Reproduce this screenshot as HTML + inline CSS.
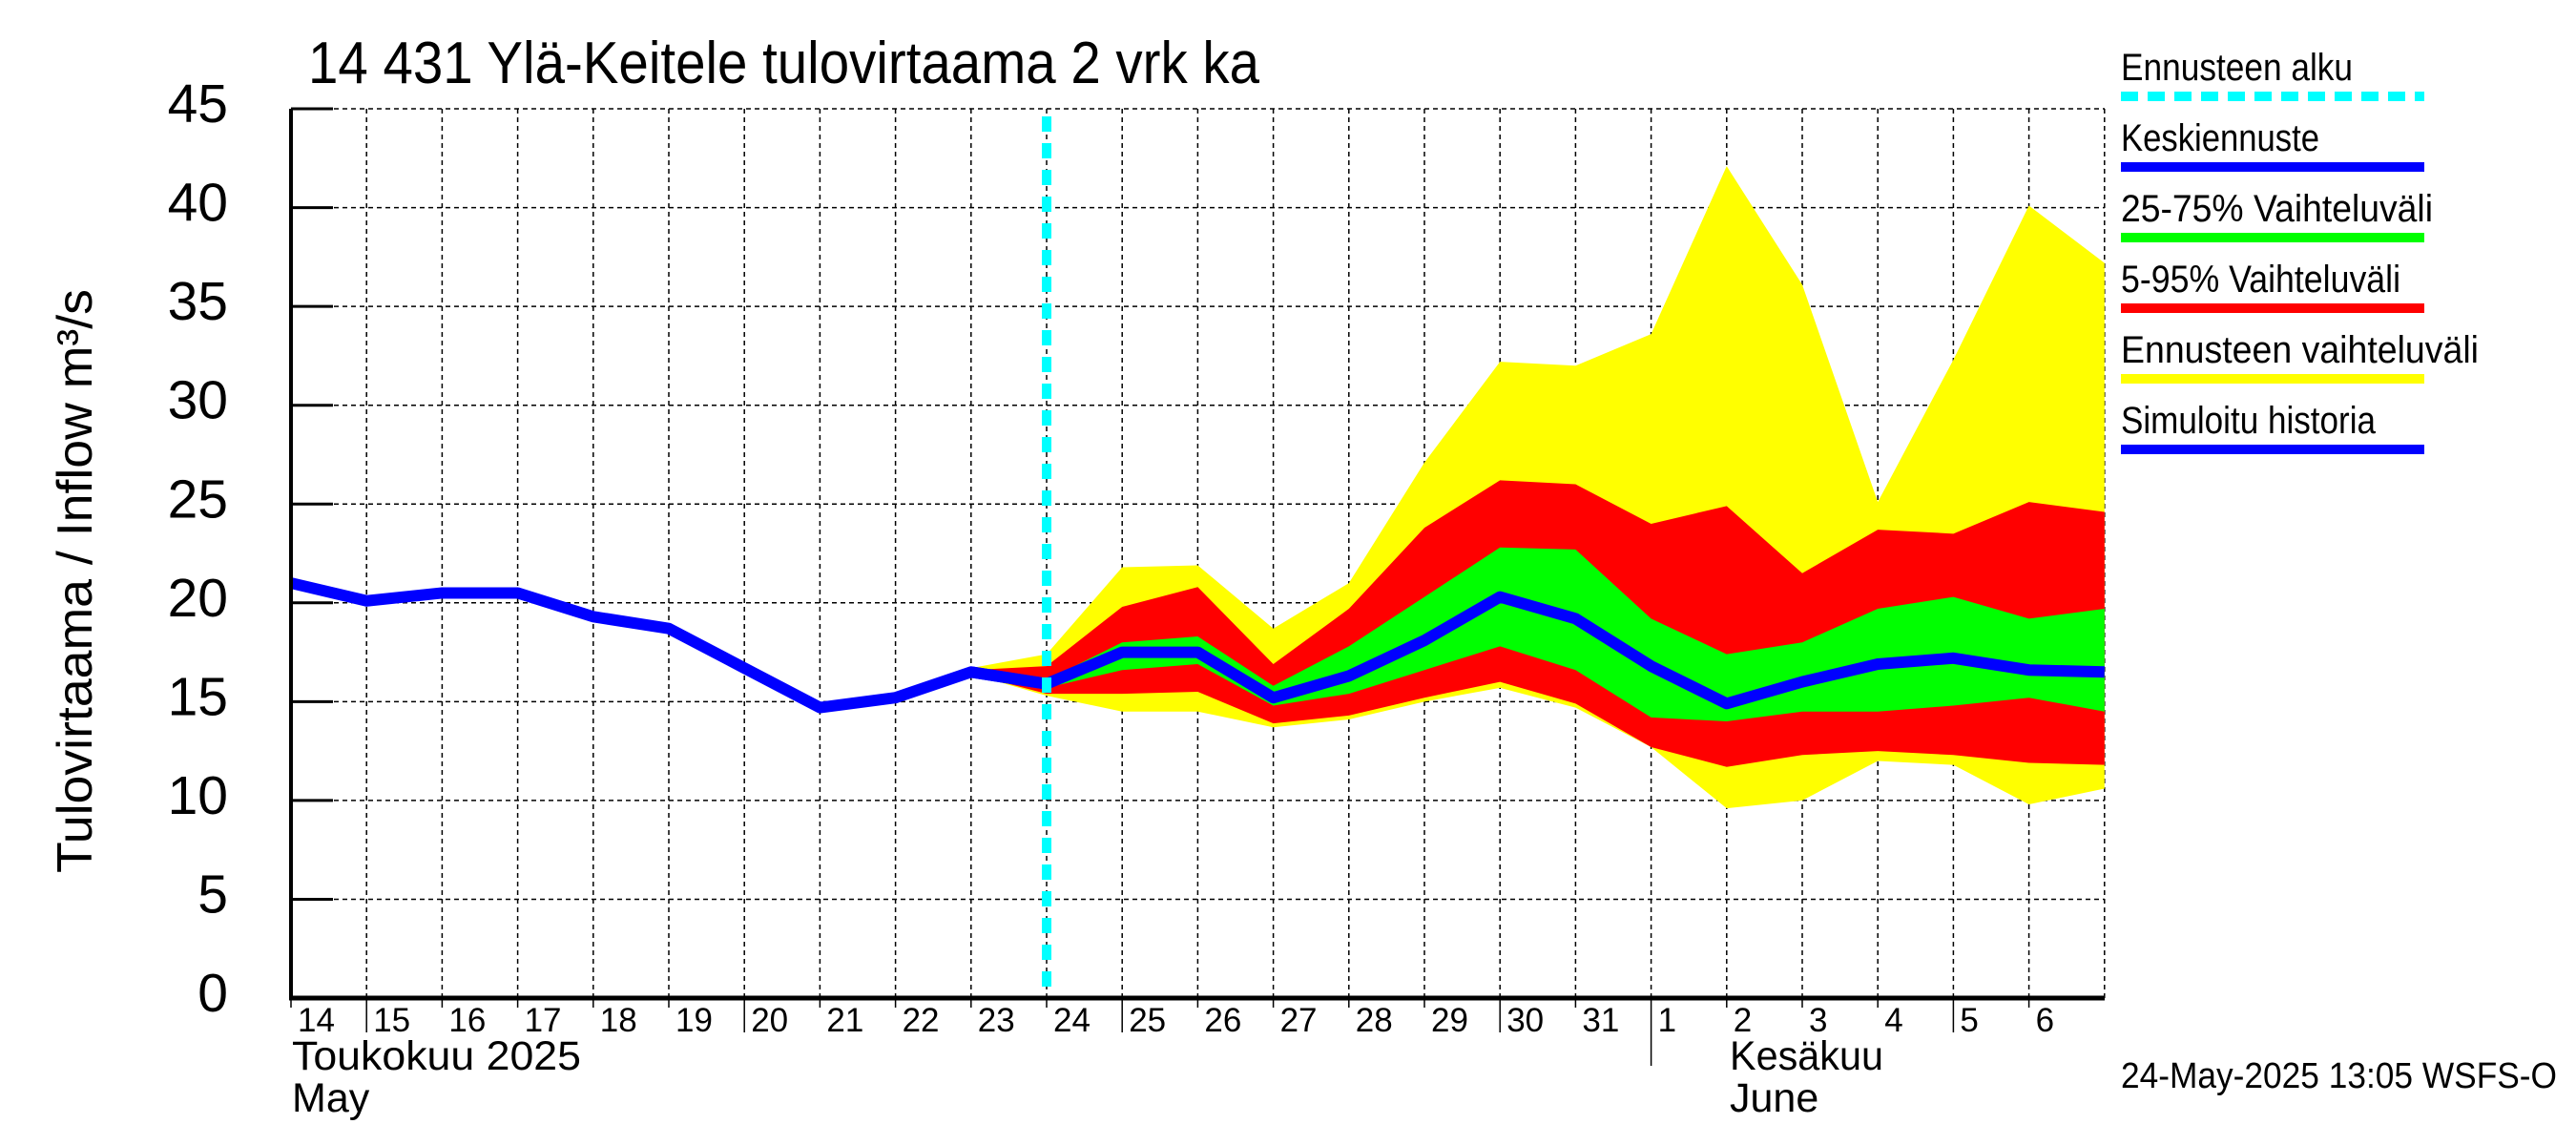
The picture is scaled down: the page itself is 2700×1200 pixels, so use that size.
<!DOCTYPE html>
<html><head><meta charset="utf-8"><style>
body{margin:0;background:#fff}
svg{display:block;font-family:"Liberation Sans",sans-serif}
</style></head><body>
<svg id="c" width="2700" height="1200" viewBox="0 0 2700 1200">
<rect width="2700" height="1200" fill="#fff"/>
<text x="323" y="87" font-size="62" textLength="997" lengthAdjust="spacingAndGlyphs">14 431 Ylä-Keitele tulovirtaama 2 vrk ka</text>
<text transform="translate(96,609) rotate(-90)" text-anchor="middle" font-size="52" textLength="612" lengthAdjust="spacingAndGlyphs">Tulovirtaama / Inflow    m³/s</text>
<g id="grid"></g><g id="bands"></g><g id="lines"></g><g id="axes"></g><g id="legend"></g>
<text x="306" y="1121" font-size="43" textLength="303" lengthAdjust="spacingAndGlyphs">Toukokuu  2025</text>
<text x="306" y="1165" font-size="43">May</text>
<text x="1813" y="1121" font-size="43" textLength="161" lengthAdjust="spacingAndGlyphs">Kesäkuu</text>
<text x="1813" y="1165" font-size="43">June</text>
<text x="2223" y="1140" font-size="38" textLength="457" lengthAdjust="spacingAndGlyphs">24-May-2025 13:05 WSFS-O</text>
</svg>
<script>
const dayLabels=["14","15","16","17","18","19","20","21","22","23","24","25","26","27","28","29","30","31","1","2","3","4","5","6"];
const yTicks=[0,5,10,15,20,25,30,35,40,45];
const history=[21.0,20.1,20.5,20.5,19.3,18.7,16.7,14.7,15.2,16.5,15.9];
// forecast from day index 9 (May 23) to 24 (Jun 7)
const median=[16.5,15.9,17.5,17.5,15.2,16.3,18.1,20.3,19.2,16.8,14.9,16.0,16.9,17.2,16.6,16.5];
const yelTop=[16.7,17.4,21.8,21.9,18.7,21.0,27.1,32.2,32.0,33.6,42.1,36.1,25.1,32.3,40.1,37.2];
const redTop=[16.6,16.8,19.8,20.8,16.9,19.7,23.8,26.2,26.0,24.0,24.9,21.5,23.7,23.5,25.1,24.6];
const grnTop=[16.5,16.1,18.0,18.3,15.8,17.8,20.3,22.8,22.7,19.2,17.4,18.0,19.7,20.3,19.2,19.7];
const grnBot=[16.5,15.7,16.6,16.9,14.8,15.4,16.6,17.8,16.6,14.2,14.0,14.5,14.5,14.8,15.2,14.5];
const redBot=[16.4,15.4,15.4,15.5,13.9,14.3,15.2,16.0,14.9,12.7,11.7,12.3,12.5,12.3,11.9,11.8];
const yelBot=[16.4,15.3,14.5,14.5,13.7,14.1,15.0,15.7,14.7,12.7,9.6,10.0,12.0,11.8,9.8,10.6];
const fcStart=9, forecastDay=10;
const X0=305,DX=79.2,Y0=1046,PU=20.71,XR=2206,YT=114;
const x=i=>X0+i*DX, y=v=>Y0-v*PU;
const NS="http://www.w3.org/2000/svg";
function mk(t,a,p){const e=document.createElementNS(NS,t);for(const k in a)e.setAttribute(k,a[k]);p.appendChild(e);return e;}
const G=document.getElementById('grid'),B=document.getElementById('bands'),L=document.getElementById('lines'),A=document.getElementById('axes'),LG=document.getElementById('legend');
yTicks.forEach(v=>{
 if(v>0){const g=mk('line',{x1:X0,x2:XR,y1:y(v),y2:y(v),stroke:'#000','stroke-width':1.5,'stroke-dasharray':'5,4'},G);
 }
 const t=mk('line',{x1:X0,x2:X0+44,y1:y(v),y2:y(v),stroke:'#000','stroke-width':3},A);
 
 const l=mk('text',{x:239,y:y(v)+14,'font-size':57,'text-anchor':'end'},A);l.textContent=v;
 
});
for(let i=1;i<=24;i++){
 const g=mk('line',{x1:x(i),x2:x(i),y1:YT,y2:Y0,stroke:'#000','stroke-width':1.5,'stroke-dasharray':'5,4'},G);
 
}
dayLabels.forEach((d,i)=>{
 const n=parseInt(d);
 const len=(i==18)?71:(n%5==0?36:10);
 const t=mk('line',{x1:x(i),x2:x(i),y1:Y0,y2:Y0+len,stroke:'#000','stroke-width':1.5},A);
 
 const l=mk('text',{x:x(i)+7,y:1081,'font-size':35},A);l.textContent=d;
 
});
function band(top,bot,col,name){
 let pts=top.map((v,k)=>x(fcStart+k)+','+y(v));
 pts=pts.concat(bot.map((v,k)=>x(fcStart+k)+','+y(v)).reverse());
 const p=mk('polygon',{points:pts.join(' '),fill:col},B);
 
}
band(yelTop,yelBot,'#ffff00','ensemble-range-band');
band(redTop,redBot,'#ff0000','band-5-95');
band(grnTop,grnBot,'#00ff00','band-25-75');
const h=mk('polyline',{points:history.map((v,i)=>x(i)+','+y(v)).join(' '),fill:'none',stroke:'#0000ff','stroke-width':12,'stroke-linejoin':'round'},L);

const m=mk('polyline',{points:median.map((v,k)=>x(fcStart+k)+','+y(v)).join(' '),fill:'none',stroke:'#0000ff','stroke-width':12,'stroke-linejoin':'round'},L);

const c=mk('line',{x1:x(forecastDay),x2:x(forecastDay),y1:YT+8,y2:Y0,stroke:'#00ffff','stroke-width':10,'stroke-dasharray':'16,12'},L);

const ax1=mk('line',{x1:X0,x2:X0,y1:YT,y2:Y0+2,stroke:'#000','stroke-width':4},A);

const ax2=mk('line',{x1:X0-2,x2:XR,y1:Y0,y2:Y0,stroke:'#000','stroke-width':5},A);

const leg=[["Ennusteen alku","#00ffff",243,true],["Keskiennuste","#0000ff",208],["25-75% Vaihteluväli","#00ff00",327],["5-95% Vaihteluväli","#ff0000",293],["Ennusteen vaihteluväli","#ffff00",375],["Simuloitu historia","#0000ff",267]];
leg.forEach((e,i)=>{
 const t=mk('text',{x:2223,y:84+i*74,'font-size':40,textLength:e[2],lengthAdjust:'spacingAndGlyphs'},LG);t.textContent=e[0];
 
 const a={x1:2223,x2:2541,y1:101+i*74,y2:101+i*74,stroke:e[1],'stroke-width':10};
 if(e[3])a['stroke-dasharray']='18,10';
 const l=mk('line',a,LG);
 
});
</script>
</body></html>
